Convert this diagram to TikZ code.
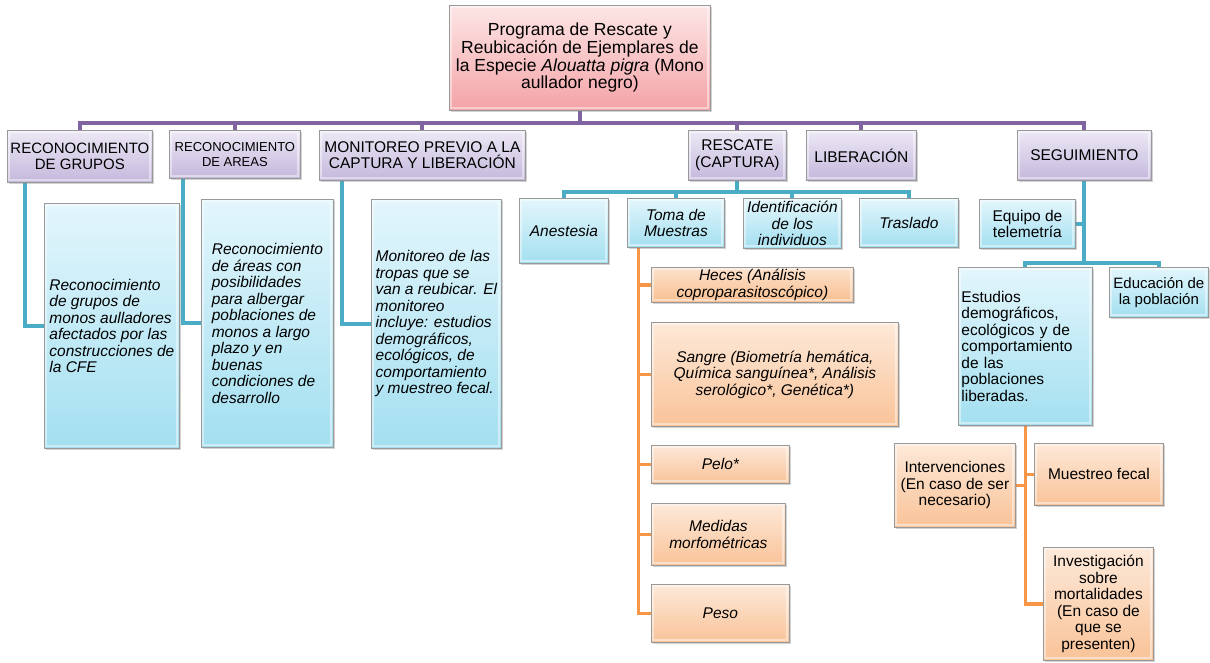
\documentclass[tikz,border=0pt]{standalone}
\usepackage{fontspec}
\setmainfont{Liberation Sans}
\usetikzlibrary{shadows}
\definecolor{pline}{HTML}{8064A2}
\definecolor{tline}{HTML}{4BACC6}
\definecolor{oline}{HTML}{F79646}
\definecolor{purT}{HTML}{EDE8F5}
\definecolor{purB}{HTML}{C4B8DC}
\definecolor{pinkT}{HTML}{FDE6E6}
\definecolor{pinkB}{HTML}{F4A3A7}
\definecolor{cyT}{HTML}{E3F6FC}
\definecolor{cyB}{HTML}{A3DFF0}
\definecolor{orT}{HTML}{FDE9D9}
\definecolor{orB}{HTML}{F9C398}
\pgfdeclarelayer{bg}
\pgfdeclarelayer{paper}
\pgfsetlayers{paper,bg,main}
\tikzset{
  box/.style={draw=black!40, line width=0.8pt, rectangle, anchor=north west,
    inner sep=2pt, align=center,
    drop shadow={shadow xshift=1.5pt,shadow yshift=-1.5pt,opacity=0.35},
    path picture={\draw[white,opacity=0.45,line width=2pt]
      ([xshift=2pt,yshift=-2pt]path picture bounding box.north west) rectangle
      ([xshift=-2pt,yshift=2pt]path picture bounding box.south east);},
    font=\fontsize{15.5}{16.5}\selectfont},
  rootbox/.style={box, top color=pinkT, bottom color=pinkB, font=\fontsize{17.5}{17.7}\selectfont},
  pbox/.style={box, top color=purT, bottom color=purB},
  cbox/.style={box, top color=cyT, bottom color=cyB},
  obox/.style={box, top color=orT, bottom color=orB},
  itx/.style={font=\fontsize{15.5}{16.5}\selectfont\itshape},
  pconn/.style={draw=pline, line width=4pt},
  tconn/.style={draw=tline, line width=4pt},
  oconn/.style={draw=oline, line width=3.6pt},
}
\begin{document}
\begin{tikzpicture}[x=1pt,y=-1pt]
\begin{pgfonlayer}{paper}
\fill[white] (0,0) rectangle (1210,662);
\end{pgfonlayer}
\useasboundingbox (0,0) rectangle (1210,662);

% root
\node[rootbox, minimum width=261pt, minimum height=105pt] (root) at (449,5)
  {Programa de Rescate y\\Reubicación de Ejemplares de\\la Especie \textit{Alouatta pigra} (Mono\\aullador negro)};

% level 1
\node[pbox, minimum width=145pt, minimum height=52pt, font=\fontsize{15}{16.5}\selectfont] (g1) at (7,130) {RECONOCIMIENTO\\DE GRUPOS};
\node[pbox, minimum width=131pt, minimum height=48pt, font=\fontsize{13}{15}\selectfont] (g2) at (169,130) {RECONOCIMIENTO\\DE AREAS};
\node[pbox, minimum width=206pt, minimum height=50pt] (g3) at (319,130) {MONITOREO PREVIO A LA\\CAPTURA Y LIBERACIÓN};
\node[pbox, minimum width=98pt, minimum height=50pt] (g4) at (688,130) {RESCATE\\(CAPTURA)};
\node[pbox, minimum width=110pt, minimum height=50pt] (g5) at (806,130) {LIBERACIÓN};
\node[pbox, minimum width=134pt, minimum height=50pt] (g6) at (1017,130) {SEGUIMIENTO};

% left tall boxes
\node[cbox, itx, align=left, minimum width=135pt, minimum height=245pt] (A) at (44,203)
  {Reconocimiento\\de grupos de\\monos aulladores\\afectados por las\\construcciones de\\la CFE};
\node[cbox, itx, align=left, minimum width=132pt, minimum height=248pt] (B) at (201,199)
  {Reconocimiento\\de áreas con\\posibilidades\\para albergar\\poblaciones de\\monos a largo\\plazo y en\\buenas\\condiciones de\\desarrollo};
\node[cbox, itx, align=left, minimum width=130pt, minimum height=249pt] (C) at (371,199)
  {Monitoreo de las\\tropas que se\\van a reubicar. El\\monitoreo\\incluye: estudios\\demográficos,\\ecológicos, de\\comportamiento\\y muestreo fecal.};

% rescate children
\node[cbox, itx, minimum width=89pt, minimum height=65pt] (anest) at (519,198) {Anestesia};
\node[cbox, itx, minimum width=97pt, minimum height=49pt] (toma) at (627,198) {Toma de\\Muestras};
\node[cbox, itx, minimum width=98pt, minimum height=50pt, inner sep=1pt] (ident) at (743,198) {Identificación\\de los\\individuos};
\node[cbox, itx, minimum width=99pt, minimum height=49pt] (trasl) at (859,198) {Traslado};

% toma children
\node[obox, itx, minimum width=202pt, minimum height=35pt, inner ysep=0.5pt, top color=orT!80!orB, bottom color=orB!90!oline] (heces) at (651,267) {Heces (Análisis\\coproparasitoscópico)};
\node[obox, itx, minimum width=247pt, minimum height=104pt] (sangre) at (651,322) {Sangre (Biometría hemática,\\Química sanguínea*, Análisis\\serológico*, Genética*)};
\node[obox, itx, minimum width=138pt, minimum height=38pt] (pelo) at (651,445) {Pelo*};
\node[obox, itx, minimum width=134pt, minimum height=62pt] (medidas) at (651,503) {Medidas\\morfométricas};
\node[obox, itx, minimum width=138pt, minimum height=58pt] (peso) at (651,584) {Peso};

% seguimiento children
\node[cbox, minimum width=96pt, minimum height=49pt] (tele) at (979,199) {Equipo de\\telemetría};
\node[cbox, align=left, text width=128pt, minimum width=134pt, minimum height=158pt] (est) at (958,267)
  {Estudios\\demográficos,\\ecológicos y de\\comportamiento\\de las\\poblaciones\\liberadas.};
\node[cbox, minimum width=99pt, minimum height=50pt, inner sep=1pt, font=\fontsize{15}{15.5}\selectfont] (edu) at (1109,267) {Educación de\\la población};

% estudios children
\node[obox, minimum width=121pt, minimum height=84pt] (interv) at (894,443) {Intervenciones\\(En caso de ser\\necesario)};
\node[obox, minimum width=129pt, minimum height=62pt] (muest) at (1034,443) {Muestreo fecal};
\node[obox, minimum width=110pt, minimum height=113pt] (inv) at (1043,547) {Investigación\\sobre\\mortalidades\\(En caso de\\que se\\presenten)};

% connectors
\begin{pgfonlayer}{bg}
\foreach \n in {g1,g2,g3,g4,g5,g6}
  \draw[pconn] (root.south) -- ++(0,12) -| (\n.north);
\foreach \n in {anest,toma,ident,trasl}
  \draw[tconn] (g4.south) -- ++(0,11) -| (\n.north);
\draw[tconn] ([xshift=-54.5pt]g1.south) |- (A.west);
\draw[tconn] ([xshift=-51.5pt]g2.south) |- (B.west);
\draw[tconn] ([xshift=-80pt]g3.south) |- (C.west);
\foreach \n in {heces,sangre,pelo,medidas,peso}
  \draw[oconn] ([xshift=-37.5pt]toma.south) |- (\n.west);
\draw[tconn] (g6.south) |- (tele.east);
\draw[tconn] (g6.south) -- ++(0,82) -| (est.north);
\draw[tconn] (g6.south) -- ++(0,82) -| (edu.north);
\draw[oconn] (est.south) |- (interv.east);
\draw[oconn] (est.south) |- (muest.west);
\draw[oconn] (est.south) |- (inv.west);
\end{pgfonlayer}
\end{tikzpicture}
\end{document}
